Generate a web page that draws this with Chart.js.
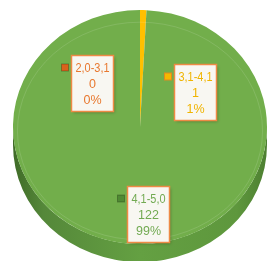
<!DOCTYPE html>
<html><head><meta charset="utf-8">
<script src="https://cdn.jsdelivr.net/npm/chart.js@4/dist/chart.umd.min.js"></script>
<style>html,body{margin:0;padding:0;background:#fff;overflow:hidden}#wrap{width:271px;height:261px}</style>
</head><body><div id="wrap"><canvas id="c" width="271" height="261"></canvas></div>
<script>
const categories = ['2,0-3,1', '3,1-4,1', '4,1-5,0'];
const counts = [0, 1, 122];
const sliceColors = ['#ED7D31', '#FFC000', '#72AE4B'];
const textColors = ['#E8782F', '#F0B400', '#72AA52'];
const keyColors = ['#D9621C', '#F5B800', '#4F8A33'];

const total = counts.reduce((a, b) => a + b, 0);
const percents = counts.map(v => Math.round(v / total * 100) + '%');

const TILT = 117 / 127;
const DEPTH = 18;

const tiltPlugin = {
  id: 'tilt',
  beforeDatasetsDraw(chart) {
    const meta = chart.getDatasetMeta(0);
    const a0 = meta.data[0];
    const cx = a0.x, cy = a0.y, r = a0.outerRadius;
    const ctx = chart.ctx;
    const ry = r * TILT;
    const grad = ctx.createLinearGradient(cx - r, 0, cx + r, 0);
    grad.addColorStop(0, '#3f6b27');
    grad.addColorStop(0.12, '#55883a');
    grad.addColorStop(0.5, '#64a042');
    grad.addColorStop(0.88, '#5e973d');
    grad.addColorStop(1, '#4d7f31');
    meta.data.forEach((arc, i) => {
      let s = Math.max(arc.startAngle, 0), e = Math.min(arc.endAngle, Math.PI);
      if (e <= s) return;
      ctx.beginPath();
      ctx.ellipse(cx, cy + DEPTH, r, ry, 0, s, e);
      ctx.ellipse(cx, cy, r, ry, 0, e, s, true);
      ctx.closePath();
      ctx.fillStyle = i === 2 ? grad : sliceColors[i];
      ctx.fill();
    });
    ctx.save();
    ctx.translate(cx, cy);
    ctx.scale(1, TILT);
    ctx.translate(-cx, -cy);
  },
  afterDatasetsDraw(chart) {
    const ctx = chart.ctx;
    ctx.restore();
    const a0 = chart.getDatasetMeta(0).data[0];
    const cx = a0.x, cy = a0.y, r = a0.outerRadius;
    ctx.save();
    ctx.beginPath();
    ctx.ellipse(cx, cy + 4, r * 0.965, r * TILT * 0.93, 0, 0, Math.PI * 2);
    ctx.strokeStyle = 'rgba(255,255,255,0.12)';
    ctx.lineWidth = 1;
    ctx.stroke();
    ctx.restore();
  }
};

const boxLabelPlugin = {
  id: 'boxLabels',
  afterDraw(chart, args, opts) {
    const meta = chart.getDatasetMeta(0);
    const a0 = meta.data[0];
    const cx = a0.x, cy = a0.y, r = a0.outerRadius;
    const ctx = chart.ctx;
    ctx.save();
    ctx.font = '12.5px "Liberation Sans", Arial, sans-serif';
    ctx.textAlign = 'center';
    ctx.textBaseline = 'middle';
    const maxTextW = 34;
    meta.data.forEach((arc, i) => {
      const lines = [categories[i], String(counts[i]), percents[i]];
      const tw = Math.min(maxTextW, Math.max(...lines.map(l => ctx.measureText(l).width)));
      const w = tw + 8;
      const lh = 16;
      const h = lines.length * lh + 8;
      const off = opts.offsets[i];
      const mx = cx + off[0] * r, my = cy + off[1] * r;
      const bx = Math.round(mx - w / 2) + 0.5, by = Math.round(my - h / 2) + 0.5;
      ctx.save();
      ctx.shadowColor = 'rgba(0,0,0,0.3)';
      ctx.shadowBlur = 3;
      ctx.shadowOffsetX = 1;
      ctx.shadowOffsetY = 1;
      ctx.fillStyle = '#F8F7F2';
      ctx.fillRect(bx, by, w, h);
      ctx.restore();
      ctx.strokeStyle = '#EE8A45';
      ctx.lineWidth = 1.5;
      ctx.strokeRect(bx, by, w, h);
      ctx.fillStyle = textColors[i];
      lines.forEach((l, k) => ctx.fillText(l, bx + w / 2, by + 4 + lh / 2 + k * lh + 1, maxTextW));
      const ky = by + 4 + lh / 2 - 3.5;
      ctx.fillStyle = keyColors[i];
      ctx.fillRect(bx - 10, ky, 7, 7);
      ctx.strokeStyle = i === 1 ? '#E08A20' : 'rgba(0,0,0,0.25)';
      ctx.lineWidth = 1;
      ctx.strokeRect(bx - 10, ky, 7, 7);
    });
    ctx.restore();
  }
};

new Chart(document.getElementById('c'), {
  type: 'pie',
  data: {
    labels: categories,
    datasets: [{ data: counts, backgroundColor: sliceColors, borderWidth: 0 }]
  },
  options: {
    responsive: false,
    animation: false,
    events: [],
    radius: 127,
    layout: { padding: { left: 12, right: 3, top: 0, bottom: 7 } },
    plugins: {
      legend: { display: false },
      tooltip: { enabled: false },
      boxLabels: { offsets: [[-0.378, -0.346], [0.433, -0.276], [0.063, 0.685]] }
    }
  },
  plugins: [tiltPlugin, boxLabelPlugin]
});
</script>
</body></html>
